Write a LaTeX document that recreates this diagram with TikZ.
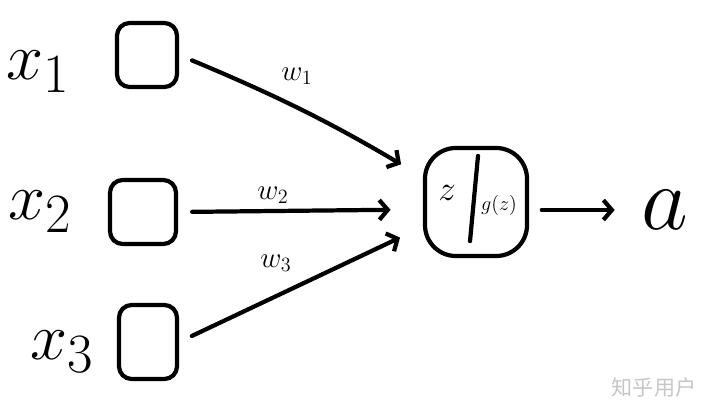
\documentclass[tikz,border=0pt]{standalone}
\usepackage{fontspec}
\newfontfamily\cjk{Noto Sans CJK SC}
\usetikzlibrary{arrows.meta,positioning,calc}

\begin{document}
\begin{tikzpicture}[x=0.025cm, y=-0.025cm,
  unit/.style={draw, line width=3pt, rounded corners=9pt},
  link/.style={line width=3pt, line cap=round, -{Straight Barb[length=6pt,width=14pt]}},
  inlabel/.style={font=\Huge, scale=1.9},
  big/.style={font=\Huge, scale=2.6},
  weight/.style={font=\huge}]
  \useasboundingbox (0,0) rectangle (720,412);
  % Input units and their labels
  \foreach \i/\x/\y/\w/\h/\lx/\ly in {
    1/147/55/1.5/1.6/38/72, 2/143/212/1.65/1.6/40/212, 3/148/342/1.45/1.85/62/352
  } {
    \node[unit, minimum width=\w cm, minimum height=\h cm] (in\i) at (\x,\y) {};
    \node[inlabel] (x\i) at (\lx,\ly) {$x_\i$};
  }
  % Summation / activation unit
  \node[unit, rounded corners=22pt, minimum width=2.55cm, minimum height=2.7cm] (sum) at (476,202) {};
  \draw[line width=3pt, line cap=round] ($(sum.north)+(2,10)$) -- ($(sum.south)+(-6,-17)$);
  \node[font=\Huge] (z) at (447,193) {$z$};
  \node[font=\Large] (gz) at (499,205) {$g(z)$};
  % Output
  \node[big] (a) at (665,210) {$a$};
  % Weighted links
  \draw[link, shorten <=10pt, shorten >=18pt] (in1.east) to[bend left=4] (sum.155);
  \draw[link, shorten <=10pt, shorten >=23pt] (in2.east) -- (sum.188);
  \draw[link, shorten <=10pt, shorten >=18pt] (in3.east) -- (sum.205);
  \node[weight] (w1) at (297,76) {$w_1$};
  \node[weight] (w2) at (273,195) {$w_2$};
  \node[weight] (w3) at (276,263) {$w_3$};
  \draw[link, shorten <=9pt, shorten >=10pt] (sum.east |- a.west) -- (a.west);
  % Watermark
  \node[font=\cjk\fontsize{15}{15}\selectfont, text=gray!45] (mark) at (654,387) {知乎用户};
\end{tikzpicture}
\end{document}
